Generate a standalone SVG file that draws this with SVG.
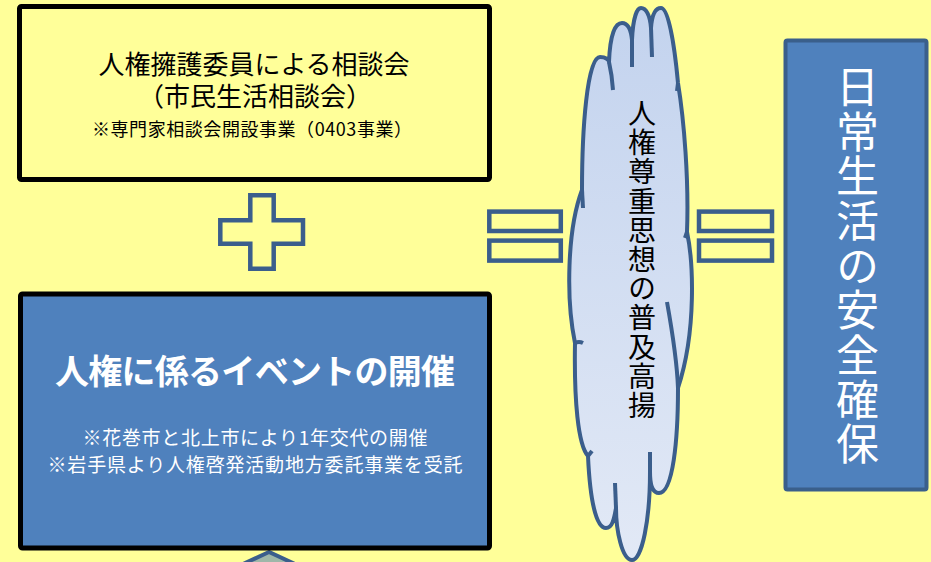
<svg xmlns="http://www.w3.org/2000/svg" width="931" height="562" viewBox="0 0 931 562">
  <defs>
    <linearGradient id="cloudGrad" x1="0" y1="0" x2="0" y2="1">
      <stop offset="0" stop-color="#C3D3EE"/>
      <stop offset="1" stop-color="#E2E9F6"/>
    </linearGradient>
    <style>
      .jp { font-family: "Noto Sans CJK JP", "Noto Sans", sans-serif; }
      .vt { writing-mode: vertical-rl; text-orientation: upright; }
      .op { fill: #FFFF99; stroke: #3B5E8C; stroke-width: 4.5; }
      .cloud { fill: url(#cloudGrad); stroke: #3B5E8C; stroke-width: 4; stroke-linejoin: round; }
      .stub { fill: none; stroke: #3B5E8C; stroke-width: 4; stroke-linecap: butt; }
    </style>
  </defs>

  <rect x="0" y="0" width="931" height="562" fill="#FFFF99"/>

  <!-- bottom partial arrow (behind the blue box) -->
  <g id="arrow-bottom">
    <polygon points="269,552 215,577 323,577" fill="#9FB7A9" stroke="#3B5E8C" stroke-width="4" stroke-linejoin="miter"/>
  </g>

  <g id="node-consultation">
    <rect x="19.5" y="6.5" width="470" height="173" rx="2" fill="#FFFF99" stroke="#000" stroke-width="5"/>
    <text class="jp" x="254" y="74" font-size="26" text-anchor="middle" fill="#000">人権擁護委員による相談会</text>
    <text class="jp" x="255" y="106" font-size="26" text-anchor="middle" fill="#000">（市民生活相談会）</text>
    <text class="jp" x="252" y="136" font-size="18" text-anchor="middle" fill="#000" textLength="320" lengthAdjust="spacing">※専門家相談会開設事業（0403事業）</text>
  </g>

  <g id="node-event">
    <rect x="20.5" y="294" width="469" height="254" rx="2" fill="#4F81BD" stroke="#000" stroke-width="5"/>
    <text class="jp" x="255" y="384" font-size="34" font-weight="bold" text-anchor="middle" fill="#FFF" textLength="400" lengthAdjust="spacing">人権に係るイベントの開催</text>
    <text class="jp" x="255" y="445" font-size="19" text-anchor="middle" fill="#FFF" textLength="345" lengthAdjust="spacing">※花巻市と北上市により1年交代の開催</text>
    <text class="jp" x="255" y="472" font-size="19" text-anchor="middle" fill="#FFF" textLength="415" lengthAdjust="spacing">※岩手県より人権啓発活動地方委託事業を受託</text>
  </g>

  <g id="connectors">
    <path class="op" d="M250.3,195.3 H273.7 V220.3 H303 V243.7 H273.7 V268.7 H250.3 V243.7 H220.3 V220.3 H250.3 Z"/>
    <rect class="op" x="489.3" y="211.6" width="71.5" height="19.4"/>
    <rect class="op" x="489.3" y="240.6" width="71.5" height="20"/>
    <rect class="op" x="699" y="211.6" width="73" height="19.4"/>
    <rect class="op" x="699" y="240.6" width="73" height="20"/>
  </g>

  <g id="node-cloud">
    <path class="cloud" d="M582,190
      C582,130 587,57 600,57 C606,57 609,60 609,62
      C610,35 615,23 622,23 C628,23 631,30 632,40
      C633,18 637,8 641,8 C646,8 650,15 651,28
      C652,14 656,8 661,8 C668,8 674,40 678,83
      C684,120 689,180 687,232
      C693,260 697,330 678,388
      C678,440 673,493 659,493 C652,493 650,485 650,472
      C650,520 642,560 632,560 C622,560 616,530 616,508
      C614,520 612,528 606,528 C596,528 590,500 588,456
      C578,445 574,400 575,343
      C566,300 567,230 582,190 Z"/>
    <path class="stub" d="M582,190 L583,208"/>
    <path class="stub" d="M609,62 Q612,75 613,90"/>
    <path class="stub" d="M632,40 L632,67"/>
    <path class="stub" d="M651,28 L652,57"/>
    <path class="stub" d="M678,83 L677,91"/>
    <path class="stub" d="M687,232 L685,238"/>
    <path class="stub" d="M667,302 C672,330 677,360 678,388"/>
    <path class="stub" d="M650,452 L650,474"/>
    <path class="stub" d="M615,483 L616,508"/>
    <path class="stub" d="M575,343 Q579,341 583,343"/>
    <path class="stub" d="M588,456 L592,451"/>
    <text class="jp vt" x="642" y="99.4" font-size="28" letter-spacing="1.2" fill="#000">人権尊重思想の普及高揚</text>
  </g>

  <g id="node-safety">
    <rect x="785.5" y="40.5" width="141" height="449" rx="2" fill="#4F81BD" stroke="#3A5F8B" stroke-width="4"/>
    <text class="jp vt" x="857.5" y="65" font-size="43" letter-spacing="1.7" fill="#FFF">日常生活の安全確保</text>
  </g>
</svg>
